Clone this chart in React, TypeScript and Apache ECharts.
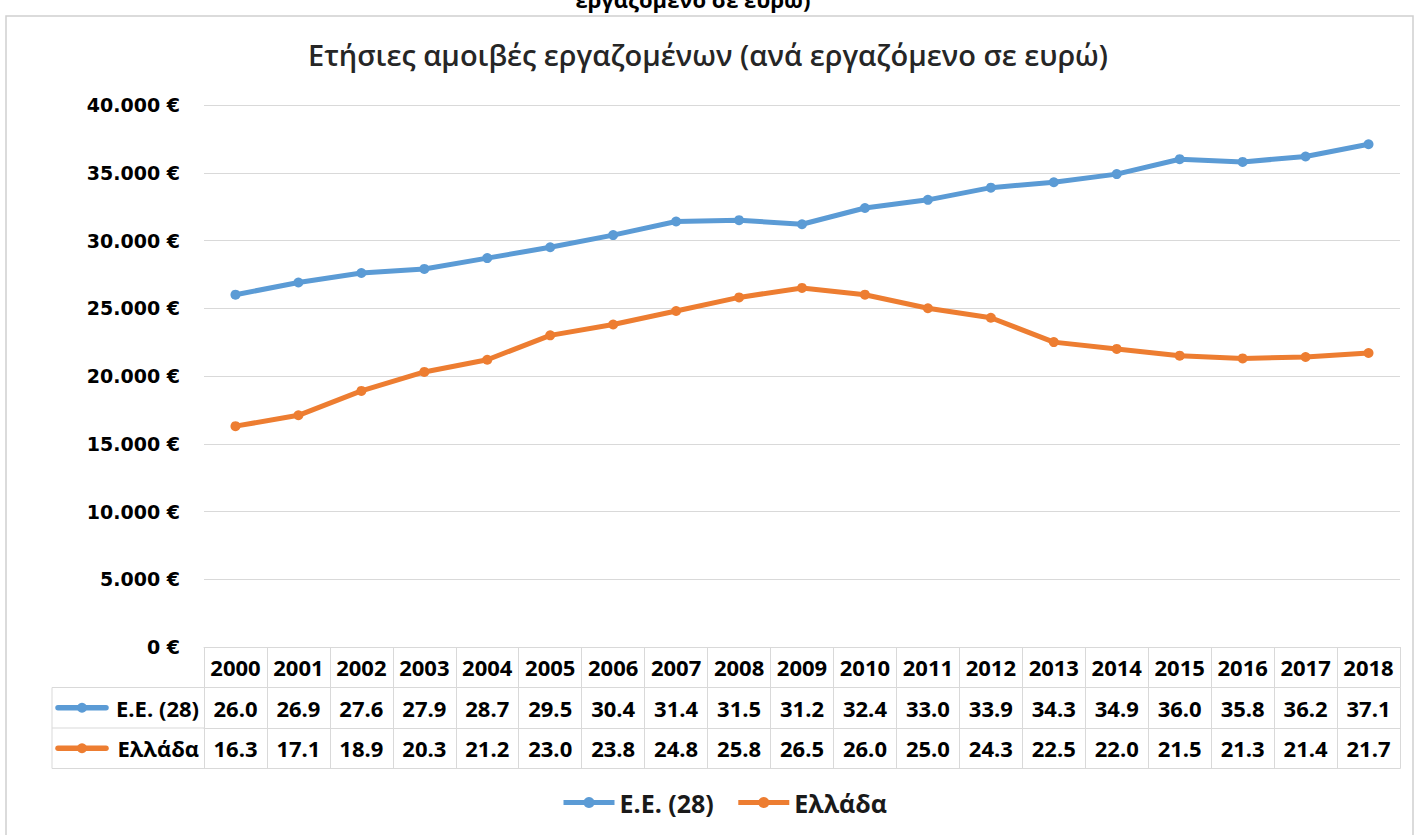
import React, { useEffect, useRef } from "react";
import * as echarts from "echarts";

const years = ["2000", "2001", "2002", "2003", "2004", "2005", "2006", "2007", "2008", "2009", "2010", "2011", "2012", "2013", "2014", "2015", "2016", "2017", "2018"];
const euValues = [26.0, 26.9, 27.6, 27.9, 28.7, 29.5, 30.4, 31.4, 31.5, 31.2, 32.4, 33.0, 33.9, 34.3, 34.9, 36.0, 35.8, 36.2, 37.1];
const grValues = [16.3, 17.1, 18.9, 20.3, 21.2, 23.0, 23.8, 24.8, 25.8, 26.5, 26.0, 25.0, 24.3, 22.5, 22.0, 21.5, 21.3, 21.4, 21.7];
const seriesNames = ["Ε.Ε. (28)", "Ελλάδα"];
const yMin = 0;
const yMax = 40;
const yInterval = 5;
const titleText = "Ετήσιες αμοιβές εργαζομένων (ανά εργαζόμενο σε ευρώ)";
const cutText = "εργαζόμενο σε ευρώ)";

const FONT = "'Open Sans', 'Noto Sans', sans-serif";
const YFONT = "'DejaVu Sans', Verdana, sans-serif";
const BLUE = "#5B9BD5";
const ORANGE = "#ED7D31";
const BORDER = "#d9d9d9";

const GRID_LEFT = 204;
const GRID_RIGHT = 16;
const GRID_TOP = 105;
const AXIS_Y = 647;
const ROW_H = 40.5;

function tableAxis(data: string[], offset: number, showLabel: boolean, showTick: boolean) {
  return {
    type: "category",
    gridIndex: 0,
    position: "bottom",
    offset,
    data,
    boundaryGap: true,
    axisLine: { show: true, lineStyle: { color: BORDER, width: 1 } },
    axisTick: { show: showTick, length: ROW_H, lineStyle: { color: BORDER, width: 1 } },
    axisLabel: {
      show: showLabel,
      interval: 0,
      margin: 9,
      fontSize: 22,
      fontWeight: "bold",
      color: "#000",
      fontFamily: FONT,
    },
    splitLine: { show: false },
  };
}

export default function App() {
  const ref = useRef<HTMLDivElement>(null);
  useEffect(() => {
    if (!ref.current) return;
    const chart = echarts.init(ref.current, null, { renderer: "svg" });
    const rowLabelY = (i: number) => AXIS_Y + ROW_H * (i + 1) + ROW_H / 2;
    const rowKey = (i: number, color: string, name: string) => ({
      type: "group",
      children: [
        { type: "line", shape: { x1: 58, y1: rowLabelY(i), x2: 106, y2: rowLabelY(i) }, style: { stroke: color, lineWidth: 5.5, lineCap: "round" } },
        { type: "circle", shape: { cx: 82, cy: rowLabelY(i), r: 5 }, style: { fill: color } },
        {
          type: "text",
          x: 199,
          y: rowLabelY(i),
          style: { text: name, fontSize: 22, fontWeight: "bold", fill: "#000", fontFamily: FONT, align: "right", verticalAlign: "middle" },
        },
      ],
    });
    chart.setOption({
      animation: false,
      backgroundColor: "#fff",
      title: {
        text: titleText,
        left: "center",
        top: 35,
        textStyle: { fontSize: 29, fontWeight: 600, color: "#262626", fontFamily: FONT },
      },
      legend: {
        data: seriesNames,
        left: 556,
        top: 785,
        itemWidth: 51,
        itemHeight: 14,
        itemGap: 22,
        lineStyle: { width: 5 },
        textStyle: { fontSize: 25, fontWeight: "bold", color: "#1a1a1a", fontFamily: FONT },
      },
      grid: { left: GRID_LEFT, right: GRID_RIGHT, top: GRID_TOP, bottom: 835 - AXIS_Y, containLabel: false },
      xAxis: [
        tableAxis(years, 0, true, true),
        tableAxis(euValues.map((v) => v.toFixed(1)), ROW_H, true, true),
        tableAxis(grValues.map((v) => v.toFixed(1)), ROW_H * 2, true, true),
        tableAxis(years.map(() => ""), ROW_H * 3, false, false),
      ],
      yAxis: {
        type: "value",
        min: yMin,
        max: yMax,
        interval: yInterval,
        axisLine: { show: false },
        axisTick: { show: false },
        splitLine: { lineStyle: { color: BORDER, width: 1 } },
        axisLabel: {
          margin: 24,
          fontSize: 19,
          fontWeight: "bold",
          color: "#000",
          fontFamily: YFONT,
          formatter: (v: number) => (v === 0 ? "0 €" : `${v}.000 €`),
        },
      },
      series: [
        {
          name: seriesNames[0],
          type: "line",
          xAxisIndex: 0,
          data: euValues,
          symbol: "circle",
          symbolSize: 10,
          lineStyle: { color: BLUE, width: 5 },
          itemStyle: { color: BLUE },
        },
        {
          name: seriesNames[1],
          type: "line",
          xAxisIndex: 0,
          data: grValues,
          symbol: "circle",
          symbolSize: 10,
          lineStyle: { color: ORANGE, width: 5 },
          itemStyle: { color: ORANGE },
        },
      ],
      graphic: [
        { type: "rect", shape: { x: 6, y: 16, width: 1407, height: 840 }, style: { fill: "none", stroke: "#d0d0d0", lineWidth: 1.5 }, z: -1 },
        {
          type: "text",
          x: 693,
          y: -1,
          style: { text: cutText, fontSize: 22, fontWeight: "bold", fill: "#000", fontFamily: FONT, align: "center", verticalAlign: "middle" },
        },
        { type: "line", shape: { x1: 52, y1: AXIS_Y + ROW_H, x2: GRID_LEFT, y2: AXIS_Y + ROW_H }, style: { stroke: BORDER, lineWidth: 1 } },
        { type: "line", shape: { x1: 52, y1: AXIS_Y + ROW_H * 2, x2: GRID_LEFT, y2: AXIS_Y + ROW_H * 2 }, style: { stroke: BORDER, lineWidth: 1 } },
        { type: "line", shape: { x1: 52, y1: AXIS_Y + ROW_H * 3, x2: GRID_LEFT, y2: AXIS_Y + ROW_H * 3 }, style: { stroke: BORDER, lineWidth: 1 } },
        { type: "line", shape: { x1: 52, y1: AXIS_Y + ROW_H, x2: 52, y2: AXIS_Y + ROW_H * 3 }, style: { stroke: BORDER, lineWidth: 1 } },
        rowKey(0, BLUE, seriesNames[0]),
        rowKey(1, ORANGE, seriesNames[1]),
      ],
    });
    return () => chart.dispose();
  }, []);
  return <div ref={ref} style={{ position: "fixed", left: 0, top: 0, width: 1416, height: 835 }} />;
}
